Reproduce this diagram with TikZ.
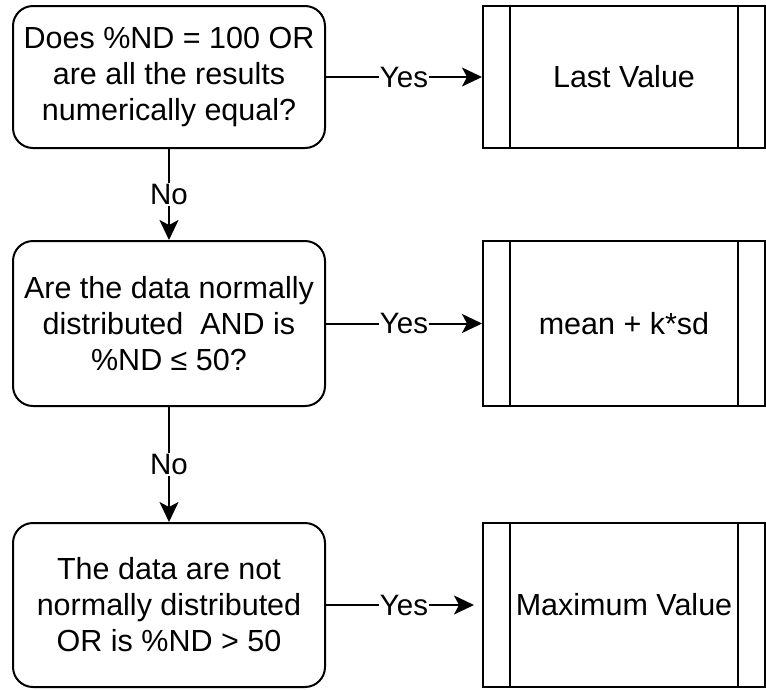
\documentclass[tikz,border=0pt]{standalone}
\usepackage{fontspec}
\setmainfont{Liberation Sans}
\usetikzlibrary{arrows.meta}
\begin{document}
\begin{tikzpicture}[x=1pt,y=-1pt,
  every node/.style={font=\fontsize{30.5}{36}\selectfont},
  decision/.style={draw, line width=2pt, rounded corners=20pt, align=center,
    minimum width=312pt, inner sep=0pt},
  procbox/.style={draw, line width=2pt, align=center, minimum width=282pt, inner sep=0pt},
  arr/.style={line width=2pt, -{Stealth[length=20pt,width=19pt,inset=5pt]}},
  lbl/.style={fill=white, inner sep=1pt, font=\fontsize{29.5}{34}\selectfont}
]
\useasboundingbox (0,0) rectangle (766,689);

\node[decision, minimum height=142pt] (d1) at (169,77)
  {Does \%ND = 100 OR\\are all the results\\numerically equal?};
\node[decision, minimum height=165pt] (d2) at (169,323.5)
  {Are the data normally\\distributed\ \ AND is\\\%ND ≤ 50?};
\node[decision, minimum height=164pt] (d3) at (169,605)
  {The data are not\\normally distributed\\OR is \%ND > 50};

\node[procbox, minimum height=142pt] (p1) at (624,77) {Last Value};
\node[procbox, minimum height=165pt] (p2) at (624,323.5) {mean + k*sd};
\node[procbox, minimum height=164pt] (p3) at (624,605) {Maximum Value};

\foreach \p in {p1,p2,p3}{
  \draw[line width=2pt] ([xshift=28pt]\p.north west) -- ([xshift=28pt]\p.south west);
  \draw[line width=2pt] ([xshift=-28pt]\p.north east) -- ([xshift=-28pt]\p.south east);
}

\draw[arr] (d1) -- node[lbl]{Yes} (p1);
\draw[arr] (d2) -- node[lbl]{Yes} (p2);
\draw[arr, shorten >=8pt] (d3) -- node[lbl]{Yes} (p3);

\draw[arr] (d1) -- node[lbl]{No} (d2);
\draw[arr] (d2) -- node[lbl]{No} (d3);
\end{tikzpicture}
\end{document}
